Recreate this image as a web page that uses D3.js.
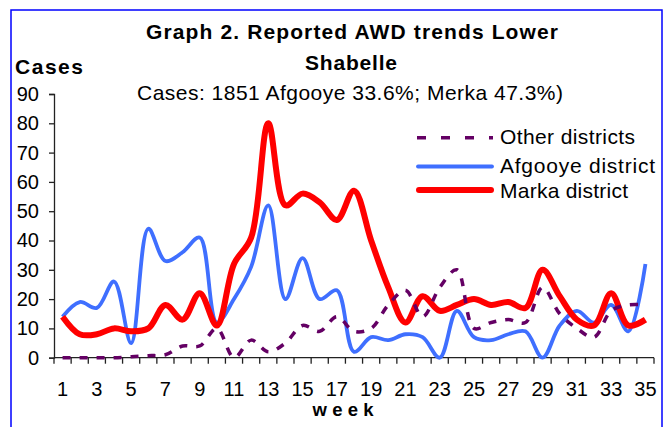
<!DOCTYPE html>
<html>
<head>
<meta charset="utf-8">
<script src="https://cdn.jsdelivr.net/npm/d3@7"></script>
<style>
  body { margin: 0; background: #fff; }
  text { font-family: "Liberation Sans", Arial, sans-serif; fill: #000; }
</style>
</head>
<body>
<svg id="chart" width="668" height="427"></svg>
<script>
// weeks 1..35
var weeks = d3.range(1, 36);
var weekLabels = weeks.filter(function(w){ return w % 2 == 1; });
var yTicks = [0, 10, 20, 30, 40, 50, 60, 70, 80, 90];

var afgooye = [14, 19, 17, 26, 5, 44, 33, 36, 41, 12, 20, 31, 52, 20, 34, 20, 23, 2, 7, 6, 8, 7, 0, 16, 7, 6, 8, 9, 0, 11, 16, 12, 18, 9, 32];
var marka   = [14, 8, 8, 10, 9, 10, 18, 13, 22, 11, 32, 41, 80, 52, 56, 53, 47, 57, 40, 24, 12, 21, 16, 18, 20, 18, 19, 17, 30, 21, 13, 11, 22, 11, 13];
var other   = [0, 0, 0, 0, 0.3, 0.7, 1, 4, 4, 10, 0, 6, 2, 5, 11, 9, 14, 9, 10, 18, 23, 14, 24, 30, 10, 12, 13, 12, 24, 15, 10, 7, 16, 18, 18];

var seriesNames = ["Other districts", "Afgooye district", "Marka district"];

var svg = d3.select("#chart");

// outer frame
svg.append("rect")
    .attr("x", 11).attr("y", 10)
    .attr("width", 651).attr("height", 440)
    .attr("fill", "#fff")
    .attr("stroke", "#0000ff").attr("stroke-width", 1.5);

var x = d3.scaleBand().domain(weeks).range([54, 654]);
var y = d3.scaleLinear().domain([0, 90]).range([357.7, 94]);
var cx = function(w){ return x(w) + x.bandwidth() / 2; };

// y axis
var gy = svg.append("g").attr("transform", "translate(54,0)")
    .call(d3.axisLeft(y).tickValues(yTicks).tickSize(5).tickPadding(10));
gy.select(".domain").attr("stroke", "#222").attr("stroke-width", 1.3);
gy.selectAll(".tick line").attr("stroke", "#222").attr("stroke-width", 1.3);
gy.selectAll("text").attr("font-size", 20).attr("fill", "#000")
    .attr("font-family", "Liberation Sans, Arial, sans-serif");

// x axis - ticks between categories
var gx = svg.append("g");
gx.append("line")
    .attr("x1", 54).attr("x2", 654)
    .attr("y1", y(0)).attr("y2", y(0))
    .attr("stroke", "#222").attr("stroke-width", 1.3);
gx.selectAll(".xt").data(weeks.concat([36]))
    .enter().append("line")
    .attr("x1", function(w){ return w == 36 ? 654 : x(w); })
    .attr("x2", function(w){ return w == 36 ? 654 : x(w); })
    .attr("y1", y(0)).attr("y2", y(0) + 6)
    .attr("stroke", "#222").attr("stroke-width", 1.3);
gx.selectAll(".xl").data(weekLabels)
    .enter().append("text")
    .attr("x", cx)
    .attr("y", 396)
    .attr("text-anchor", "middle")
    .attr("font-size", 20)
    .text(function(w){ return w; });

// lines
var line = function(vals){
    return d3.line()
        .x(function(d, i){ return cx(weeks[i]); })
        .y(function(d){ return y(d); })
        .curve(d3.curveCatmullRom.alpha(0.5))(vals);
};

svg.append("path").attr("d", line(afgooye))
    .attr("fill", "none").attr("stroke", "#3f6fff").attr("stroke-width", 3.8)
    .attr("stroke-linejoin", "round");
svg.append("path").attr("d", line(marka))
    .attr("fill", "none").attr("stroke", "#ff0000").attr("stroke-width", 6)
    .attr("stroke-linejoin", "round");
svg.append("path").attr("d", line(other))
    .attr("fill", "none").attr("stroke", "#640064").attr("stroke-width", 3.5)
    .attr("stroke-dasharray", "8,9");

// titles
svg.append("text").attr("x", 352).attr("y", 39).attr("text-anchor", "middle")
    .attr("font-size", 21).attr("font-weight", "bold")
    .attr("textLength", 412).attr("lengthAdjust", "spacing")
    .text("Graph 2. Reported AWD trends Lower");
svg.append("text").attr("x", 351).attr("y", 70).attr("text-anchor", "middle")
    .attr("font-size", 21).attr("font-weight", "bold")
    .attr("textLength", 92).attr("lengthAdjust", "spacing")
    .text("Shabelle");
svg.append("text").attr("x", 350).attr("y", 100).attr("text-anchor", "middle")
    .attr("font-size", 21)
    .attr("textLength", 426).attr("lengthAdjust", "spacing")
    .text("Cases: 1851 Afgooye 33.6%; Merka 47.3%)");
svg.append("text").attr("x", 15).attr("y", 74)
    .attr("font-size", 21).attr("font-weight", "bold")
    .attr("textLength", 68).attr("lengthAdjust", "spacing")
    .text("Cases");
svg.append("text").attr("x", 343).attr("y", 416).attr("text-anchor", "middle")
    .attr("font-size", 18.5).attr("font-weight", "bold")
    .attr("textLength", 61).attr("lengthAdjust", "spacing")
    .text("week");

// legend
var legY = [137.7, 166.5, 190];
var legText = [144, 172.5, 198];
var legW = [135, 155, 128];
var leg = svg.append("g");
leg.append("line").attr("x1", 417).attr("x2", 493).attr("y1", legY[0]).attr("y2", legY[0])
    .attr("stroke", "#640064").attr("stroke-width", 3.5).attr("stroke-dasharray", "9,15");
leg.append("line").attr("x1", 418).attr("x2", 492).attr("y1", legY[1]).attr("y2", legY[1])
    .attr("stroke", "#3f6fff").attr("stroke-width", 3.8).attr("stroke-linecap", "round");
leg.append("line").attr("x1", 419).attr("x2", 491).attr("y1", legY[2]).attr("y2", legY[2])
    .attr("stroke", "#ff0000").attr("stroke-width", 6).attr("stroke-linecap", "round");
seriesNames.forEach(function(n, i){
    leg.append("text").attr("x", 500).attr("y", legText[i])
        .attr("font-size", 21)
        .attr("textLength", legW[i]).attr("lengthAdjust", "spacing")
        .text(n);
});
</script>
</body>
</html>
